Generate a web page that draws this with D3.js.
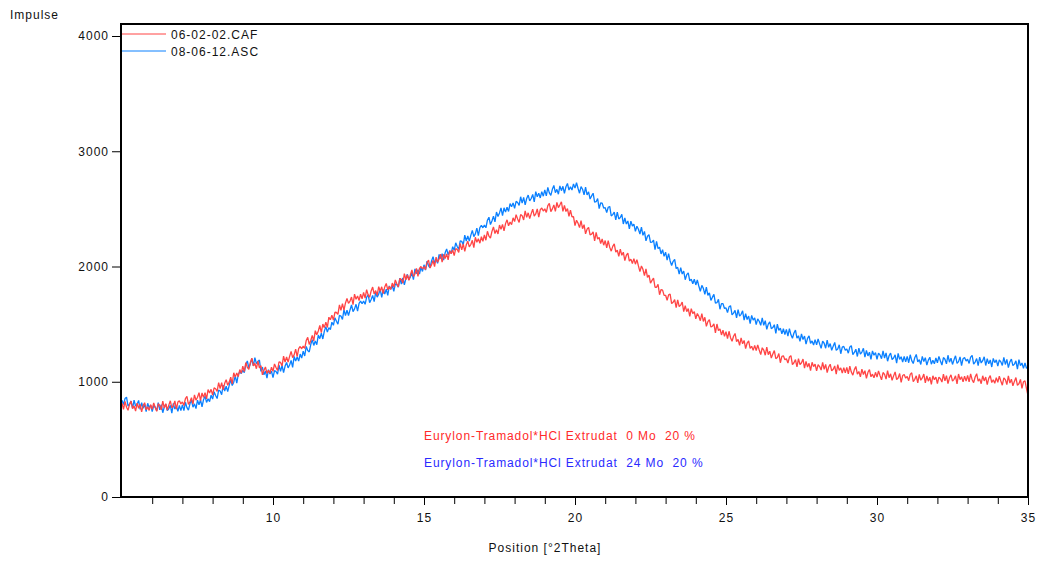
<!DOCTYPE html>
<html>
<head>
<meta charset="utf-8">
<script src="https://cdn.jsdelivr.net/npm/d3@7"></script>
<style>
  html, body { margin: 0; padding: 0; background: #fff; }
  svg text { font-family: "Liberation Sans", Arial, sans-serif; font-size: 12px; letter-spacing: 1px; }
</style>
</head>
<body>
<svg id="chart" width="1039" height="561"></svg>
<script>
// Scan geometry: 2Theta start and step size (degrees)
const scanStart = 5.0;
const scanStep = 0.05;

// Intensity, sample 06-02-02.CAF (0 months), one row per degree
const caf = [
  815, 760, 829, 779, 753, 803, 832, 767, 791, 746, 815, 770, 804, 739, 793, 818, 757, 782, 751, 801,
  760, 816, 777, 743, 809, 795, 756, 832, 773, 809, 755, 797, 835, 773, 791, 834, 762, 824, 836, 808,
  825, 794, 854, 873, 803, 827, 862, 806, 886, 840, 865, 906, 837, 903, 864, 905, 851, 932, 903, 934,
  885, 947, 939, 916, 993, 940, 992, 929, 986, 1018, 970, 997, 1039, 981, 1078, 1040, 1077, 1044, 1106, 1073,
  1135, 1088, 1167, 1125, 1108, 1167, 1205, 1138, 1160, 1113, 1180, 1120, 1140, 1060, 1100, 1128, 1072, 1100, 1073, 1127,
  1090, 1155, 1124, 1099, 1173, 1168, 1137, 1222, 1171, 1216, 1170, 1220, 1264, 1209, 1233, 1283, 1217, 1287, 1306, 1286,
  1310, 1289, 1357, 1386, 1324, 1358, 1401, 1355, 1443, 1407, 1440, 1489, 1427, 1501, 1469, 1518, 1471, 1560, 1538, 1577,
  1535, 1603, 1601, 1584, 1667, 1620, 1678, 1621, 1684, 1722, 1680, 1700, 1735, 1670, 1760, 1715, 1745, 1705, 1760, 1720,
  1775, 1725, 1799, 1754, 1733, 1788, 1822, 1762, 1791, 1751, 1825, 1785, 1824, 1764, 1823, 1853, 1797, 1827, 1801, 1856,
  1820, 1883, 1850, 1823, 1895, 1888, 1855, 1938, 1885, 1928, 1880, 1928, 1970, 1913, 1935, 1983, 1915, 1983, 2000, 1978,
  2000, 1972, 2034, 2056, 1988, 2015, 2052, 1999, 2081, 2038, 2065, 2107, 2039, 2106, 2068, 2110, 2057, 2139, 2111, 2143,
  2095, 2156, 2147, 2123, 2199, 2145, 2196, 2132, 2188, 2219, 2170, 2191, 2227, 2163, 2254, 2210, 2241, 2202, 2258, 2219,
  2275, 2228, 2306, 2264, 2247, 2305, 2343, 2286, 2319, 2282, 2360, 2323, 2366, 2309, 2372, 2405, 2353, 2386, 2364, 2422,
  2390, 2449, 2413, 2382, 2451, 2440, 2404, 2483, 2427, 2466, 2415, 2459, 2498, 2437, 2456, 2500, 2429, 2493, 2507, 2481,
  2500, 2469, 2528, 2547, 2476, 2500, 2534, 2478, 2557, 2511, 2535, 2562, 2478, 2530, 2477, 2503, 2435, 2488, 2430, 2433,
  2355, 2401, 2376, 2337, 2397, 2328, 2363, 2284, 2324, 2340, 2275, 2281, 2301, 2222, 2297, 2238, 2253, 2199, 2239, 2185,
  2225, 2162, 2224, 2166, 2133, 2175, 2197, 2124, 2141, 2088, 2150, 2097, 2124, 2051, 2098, 2115, 2047, 2064, 2026, 2068,
  2020, 2060, 2005, 1955, 2005, 1975, 1920, 1980, 1905, 1925, 1855, 1880, 1900, 1820, 1820, 1845, 1755, 1800, 1795, 1750,
  1750, 1707, 1754, 1761, 1678, 1690, 1712, 1644, 1711, 1653, 1665, 1692, 1609, 1661, 1608, 1635, 1567, 1634, 1591, 1608,
  1545, 1592, 1568, 1530, 1591, 1523, 1559, 1481, 1522, 1539, 1475, 1482, 1503, 1425, 1501, 1443, 1459, 1406, 1447, 1394,
  1435, 1374, 1438, 1382, 1351, 1395, 1419, 1348, 1367, 1316, 1380, 1329, 1358, 1287, 1336, 1355, 1289, 1308, 1272, 1316,
  1270, 1320, 1275, 1235, 1295, 1275, 1230, 1300, 1235, 1265, 1205, 1240, 1270, 1200, 1210, 1245, 1165, 1220, 1225, 1190,
  1200, 1162, 1214, 1226, 1148, 1165, 1192, 1129, 1201, 1148, 1165, 1197, 1119, 1176, 1128, 1160, 1097, 1169, 1131, 1153,
  1095, 1149, 1132, 1101, 1169, 1108, 1151, 1080, 1128, 1152, 1095, 1109, 1137, 1066, 1149, 1098, 1121, 1075, 1123, 1077,
  1125, 1068, 1136, 1084, 1057, 1105, 1133, 1066, 1089, 1042, 1110, 1063, 1096, 1029, 1082, 1105, 1043, 1066, 1034, 1082,
  1040, 1094, 1053, 1016, 1080, 1064, 1023, 1096, 1035, 1069, 1013, 1051, 1085, 1019, 1033, 1071, 995, 1054, 1063, 1031,
  1045, 1009, 1064, 1078, 1002, 1021, 1051, 990, 1064, 1013, 1033, 1067, 991, 1050, 1005, 1039, 978, 1052, 1017, 1041,
  985, 1040, 1026, 997, 1067, 1008, 1053, 984, 1034, 1060, 1005, 1021, 1051, 982, 1067, 1018, 1043, 999, 1049, 1005,
  1055, 999, 1068, 1018, 992, 1041, 1070, 1005, 1024, 983, 1052, 1007, 1041, 975, 1029, 1054, 993, 1017, 987, 1036,
  995, 1048, 1007, 970, 1034, 1018, 976, 1050, 988, 1022, 965, 1003, 1036, 969, 982, 1020, 943, 1000, 1007, 940,
  880
];

// Intensity, sample 08-06-12.ASC (24 months), one row per degree
const asc = [
  840, 802, 854, 866, 788, 805, 832, 769, 841, 788, 805, 838, 760, 818, 770, 803, 740, 813, 775, 798,
  740, 794, 779, 748, 818, 757, 802, 731, 781, 805, 750, 766, 796, 727, 812, 763, 788, 744, 794, 750,
  800, 749, 822, 776, 754, 808, 841, 780, 808, 767, 840, 801, 842, 783, 844, 875, 821, 852, 828, 884,
  850, 913, 881, 854, 927, 920, 888, 971, 919, 962, 915, 969, 1018, 967, 996, 1050, 989, 1063, 1087, 1071,
  1100, 1080, 1150, 1180, 1120, 1155, 1200, 1138, 1210, 1158, 1175, 1188, 1090, 1128, 1060, 1093, 1032, 1105, 1068, 1092,
  1035, 1097, 1089, 1066, 1143, 1090, 1142, 1079, 1136, 1168, 1120, 1145, 1185, 1125, 1220, 1180, 1215, 1180, 1240, 1205,
  1265, 1224, 1307, 1271, 1259, 1323, 1366, 1315, 1353, 1322, 1405, 1374, 1422, 1371, 1439, 1478, 1431, 1470, 1453, 1517,
  1490, 1555, 1525, 1500, 1575, 1570, 1540, 1625, 1575, 1620, 1575, 1623, 1666, 1609, 1632, 1672, 1613, 1681, 1699, 1677,
  1700, 1672, 1733, 1755, 1686, 1713, 1749, 1696, 1777, 1734, 1760, 1802, 1733, 1800, 1761, 1803, 1749, 1831, 1802, 1834,
  1785, 1849, 1842, 1821, 1899, 1848, 1901, 1840, 1898, 1932, 1885, 1909, 1947, 1886, 1979, 1938, 1971, 1935, 1993, 1957,
  2015, 1969, 2047, 2006, 1989, 2048, 2086, 2030, 2063, 2027, 2105, 2069, 2112, 2056, 2119, 2153, 2101, 2135, 2113, 2172,
  2140, 2205, 2174, 2149, 2223, 2218, 2187, 2272, 2221, 2266, 2220, 2270, 2314, 2259, 2283, 2333, 2267, 2337, 2356, 2336,
  2360, 2336, 2402, 2428, 2364, 2395, 2436, 2387, 2473, 2434, 2465, 2508, 2441, 2509, 2472, 2515, 2478, 2546, 2519, 2552,
  2505, 2565, 2555, 2530, 2605, 2550, 2600, 2535, 2590, 2620, 2570, 2590, 2625, 2560, 2650, 2605, 2635, 2595, 2650, 2610,
  2665, 2613, 2686, 2639, 2617, 2670, 2703, 2641, 2669, 2627, 2700, 2658, 2696, 2634, 2692, 2720, 2663, 2691, 2664, 2717,
  2680, 2727, 2679, 2636, 2693, 2670, 2622, 2689, 2621, 2648, 2585, 2613, 2636, 2559, 2562, 2590, 2503, 2551, 2549, 2507,
  2510, 2467, 2514, 2521, 2438, 2450, 2472, 2404, 2471, 2413, 2425, 2452, 2369, 2421, 2368, 2395, 2327, 2394, 2351, 2368,
  2305, 2349, 2323, 2282, 2341, 2270, 2304, 2223, 2262, 2276, 2210, 2212, 2229, 2146, 2218, 2155, 2167, 2109, 2146, 2088,
  2125, 2056, 2112, 2048, 2009, 2045, 2061, 1982, 1993, 1934, 1990, 1935, 1960, 1885, 1930, 1945, 1875, 1890, 1850, 1890,
  1840, 1883, 1831, 1784, 1837, 1810, 1758, 1821, 1749, 1772, 1705, 1734, 1758, 1682, 1686, 1715, 1629, 1678, 1677, 1636,
  1640, 1600, 1650, 1660, 1580, 1595, 1620, 1555, 1625, 1570, 1585, 1615, 1535, 1590, 1540, 1570, 1505, 1575, 1535, 1555,
  1495, 1545, 1525, 1490, 1555, 1490, 1530, 1455, 1500, 1520, 1460, 1470, 1495, 1420, 1500, 1445, 1465, 1415, 1460, 1410,
  1455, 1396, 1461, 1407, 1377, 1423, 1448, 1379, 1399, 1350, 1415, 1366, 1396, 1327, 1377, 1398, 1333, 1354, 1319, 1365,
  1320, 1372, 1329, 1290, 1352, 1334, 1291, 1362, 1299, 1331, 1273, 1309, 1341, 1273, 1285, 1321, 1243, 1300, 1307, 1273,
  1285, 1248, 1301, 1313, 1236, 1254, 1282, 1219, 1292, 1240, 1258, 1290, 1213, 1271, 1224, 1256, 1194, 1267, 1230, 1252,
  1195, 1248, 1232, 1200, 1268, 1206, 1250, 1178, 1226, 1249, 1193, 1206, 1234, 1162, 1246, 1194, 1217, 1170, 1219, 1172,
  1220, 1165, 1234, 1183, 1158, 1208, 1237, 1172, 1191, 1150, 1220, 1175, 1209, 1144, 1188, 1213, 1152, 1187, 1156, 1206,
  1165, 1220, 1180, 1145, 1210, 1195, 1155, 1230, 1170, 1205, 1150, 1190, 1225, 1160, 1175, 1215, 1140, 1200, 1210, 1180,
  1195, 1159, 1214, 1228, 1152, 1171, 1201, 1140, 1214, 1163, 1183, 1217, 1141, 1200, 1155, 1189, 1128, 1202, 1166, 1190,
  1135, 1189, 1173, 1142, 1211, 1150, 1194, 1123, 1172, 1196, 1140, 1153, 1181, 1109, 1192, 1140, 1163, 1116, 1164, 1117,
  1125
];

const seriesNames = ["06-02-02.CAF", "08-06-12.ASC"];
const seriesColors = ["#ff4545", "#0a80ff"];
const sampleLabels = [
  "Eurylon-Tramadol*HCl Extrudat  0 Mo  20 %",
  "Eurylon-Tramadol*HCl Extrudat  24 Mo  20 %"
];
const sampleLabelColors = ["#ff2a2a", "#2a2aff"];
const xMajorTicks = [10, 15, 20, 25, 30, 35];
const yTicks = [0, 1000, 2000, 3000, 4000];
const xDomain = [5, 35];
const yDomain = [0, 4000];

const svg = d3.select("#chart");
const box = { left: 121, right: 1028, top: 24, bottom: 497 };
const fontFamily = '"Liberation Sans", Arial, sans-serif';

const x = d3.scaleLinear().domain(xDomain).range([122, 1028]);
const y = d3.scaleLinear().domain(yDomain).range([497, 36]);

svg.append("rect").attr("width", 1039).attr("height", 561).attr("fill", "#fff");

svg.append("defs").append("clipPath").attr("id", "plotClip")
  .append("rect")
  .attr("x", box.left).attr("y", box.top)
  .attr("width", box.right - box.left).attr("height", box.bottom - box.top);

// Diffraction traces (24 Mo underneath, 0 Mo on top)
const line = d3.line()
  .x((d, i) => x(scanStart + i * scanStep))
  .y(d => y(d));

const traces = svg.append("g").attr("clip-path", "url(#plotClip)");
[[asc, seriesColors[1]], [caf, seriesColors[0]]].forEach(([vals, col]) => {
  traces.append("path")
    .datum(vals)
    .attr("d", line)
    .attr("fill", "none")
    .attr("stroke", col)
    .attr("stroke-width", 1.3)
    .attr("stroke-linejoin", "bevel");
});

// Y axis: ticks outside on the left
const yAxis = d3.axisLeft(y).tickValues(yTicks).tickSize(9).tickPadding(3).tickFormat(d3.format("d"));
const gy = svg.append("g").attr("transform", `translate(${box.left},0)`).call(yAxis);
gy.select(".domain").remove();
gy.selectAll(".tick line").attr("stroke", "#000");
gy.selectAll(".tick text").attr("fill", "#111")
  .style("font-size", "12px").style("font-family", fontFamily);

// X axis: minor ticks every degree, labelled majors every 5
const xMinor = d3.range(6, 35, 1).filter(v => !xMajorTicks.includes(v));
const gxm = svg.append("g").attr("transform", `translate(0,${box.bottom})`)
  .call(d3.axisBottom(x).tickValues(xMinor).tickSize(7).tickFormat(""));
gxm.select(".domain").remove();
gxm.selectAll(".tick line").attr("stroke", "#000");

const gx = svg.append("g").attr("transform", `translate(0,${box.bottom})`)
  .call(d3.axisBottom(x).tickValues(xMajorTicks).tickSize(8).tickPadding(8));
gx.select(".domain").remove();
gx.selectAll(".tick line").attr("stroke", "#000");
gx.selectAll(".tick text").attr("fill", "#111")
  .style("font-size", "12px").style("font-family", fontFamily);

// Plot frame
svg.append("rect")
  .attr("x", box.left).attr("y", box.top)
  .attr("width", box.right - box.left).attr("height", box.bottom - box.top)
  .attr("fill", "none").attr("stroke", "#000").attr("stroke-width", 2);

// Legend
seriesNames.forEach((name, i) => {
  const ly = 34 + i * 17;
  svg.append("line").attr("x1", 122).attr("x2", 166).attr("y1", ly).attr("y2", ly)
    .attr("stroke", seriesColors[i]).attr("stroke-width", 1);
  svg.append("text").attr("x", 171).attr("y", ly + 4.5).attr("fill", "#111").text(name);
});

// Sample annotations
sampleLabels.forEach((t, i) => {
  svg.append("text")
    .attr("x", 424).attr("y", 440 + i * 27)
    .attr("fill", sampleLabelColors[i])
    .style("white-space", "pre")
    .style("letter-spacing", "0.9px")
    .text(t);
});

// Axis titles
svg.append("text").attr("x", 10).attr("y", 19).attr("fill", "#111").text("Impulse");
svg.append("text").attr("x", 545).attr("y", 552).attr("text-anchor", "middle")
  .attr("fill", "#111").text("Position [°2Theta]");
</script>
</body>
</html>
